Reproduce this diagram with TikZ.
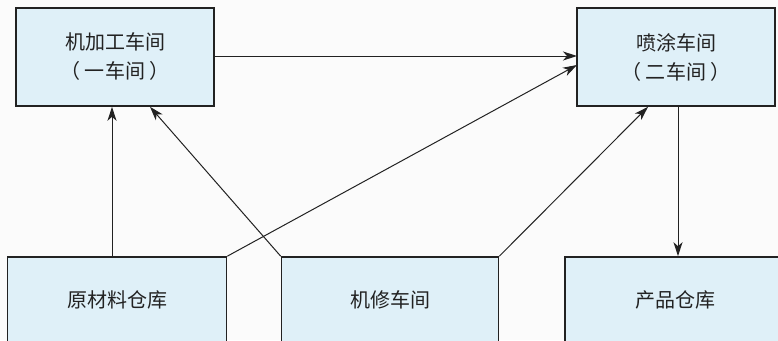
\documentclass[tikz,border=0pt]{standalone}
\usepackage{fontspec}
\setmainfont{Noto Sans CJK SC}
\usetikzlibrary{arrows.meta}
\definecolor{boxfill}{HTML}{DFF0F8}
\definecolor{bg}{HTML}{FBFBFB}
\definecolor{ink}{HTML}{222222}
\begin{document}
\begin{tikzpicture}[x=1pt,y=-1pt,
  box/.style={draw=ink,line width=1.6pt,fill=boxfill,inner sep=0pt},
  lbl/.style={font=\fontsize{20}{29}\selectfont\color{ink},align=center,inner sep=0pt},
  conn/.style={draw=ink,line width=1pt,-{Stealth[length=14pt,width=9pt,inset=4pt]}}]
\useasboundingbox (0,0) rectangle (778,340);
\fill[bg] (0,0) rectangle (778,340);
\clip (0,0) rectangle (778,340);
\node[box,minimum width=198pt,minimum height=98pt] (jj) at (115,57) {};
\node[box,minimum width=198pt,minimum height=98pt] (pt) at (676,57) {};
\node[box,minimum width=219pt,minimum height=100pt] (yc) at (117,307) {};
\node[box,minimum width=217pt,minimum height=100pt] (jx) at (390,307) {};
\node[box,minimum width=220pt,minimum height=100pt] (cp) at (675,307) {};
\node[lbl] (jjt) at (jj.center) {机加工车间\\（ 一车间 ）};
\node[lbl] (ptt) at (pt.center) {喷涂车间\\（ 二车间 ）};
\node[lbl] (yct) at (117,300) {原材料仓库};
\node[lbl] (jxt) at (390,300) {机修车间};
\node[lbl] (cpt) at (675,300) {产品仓库};
\coordinate (a1) at (214,56);
\coordinate (a2) at (577,56);
\draw[conn] (a1) -- (a2);
\draw[conn] (yc.north -| 112,0) -- (jj.south -| 112,0);
\draw[conn] (jx.north west) -- (jj.south -| 150,0);
\draw[conn] (yc.north east) -- (577,65);
\draw[conn] (jx.north east) -- (pt.south -| 648,0);
\draw[conn] (pt.south -| 678,0) -- (cp.north -| 678,0);
\end{tikzpicture}
\end{document}
